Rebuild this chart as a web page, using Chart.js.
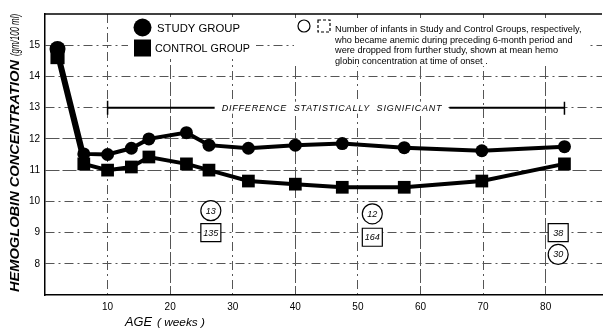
<!DOCTYPE html>
<html>
<head>
<meta charset="utf-8">
<script src="https://cdn.jsdelivr.net/npm/chart.js@4.4.1/dist/chart.umd.min.js"></script>
<style>
  html, body { margin:0; padding:0; background:#fff; }
  #wrap { width:605px; height:328px; }
</style>
</head>
<body>
<div id="wrap"><canvas id="chart" width="605" height="328"></canvas></div>
<script>
// Data
const weeks   = [2, 6.2, 10, 13.8, 16.6, 22.6, 26.2, 32.5, 40, 47.5, 57.4, 69.8, 83];
const study   = [14.88, 11.52, 11.5, 11.7, 12.0, 12.2, 11.8, 11.7, 11.8, 11.85, 11.72, 11.62, 11.75];
const control = [14.62, 11.2, 11.0, 11.1, 11.42, 11.2, 11.0, 10.65, 10.55, 10.45, 10.45, 10.65, 11.2];
const xTicks = [10, 20, 30, 40, 50, 60, 70, 80];
const yTicks = [8, 9, 10, 11, 12, 13, 14, 15];

// infants dropped as anaemic (circle = study, square = control)
const onsetWeek  = [26.5, 26.5, 52.3, 52.3, 82, 82];
const onsetHb    = [9.7, 9.0, 9.6, 8.85, 9.0, 8.3];
const onsetCount = ['13', '135', '12', '164', '38', '30'];
const onsetGroup = ['study', 'control', 'study', 'control', 'control', 'study'];

const signifFrom = 10, signifTo = 83, signifHb = 13;
const signifText = 'DIFFERENCE  STATISTICALLY  SIGNIFICANT';

const noteLines = [
  'Number of infants in Study and Control Groups, respectively,',
  'who became anemic during preceding 6-month period and',
  'were dropped from further study, shown at mean hemo',
  'globin concentration at time of onset .'
];

const FONT = '"Liberation Sans", Arial, sans-serif';

// helpers
const pts = ys => weeks.map((w, i) => ({ x: w, y: ys[i] }));
const solidish = [14, 3];
const dashDot = [9, 4, 2, 4];
const ySolid = [11, 12];
const xSolid = [20, 40, 60, 80];

// draw text squeezed/stretched to a given width
function fitText(ctx, txt, x, y, w) {
  const m = ctx.measureText(txt).width;
  ctx.save();
  ctx.translate(x, y);
  ctx.scale(w / m, 1);
  ctx.fillText(txt, 0, 0);
  ctx.restore();
}

const overlay = {
  id: 'overlay',
  beforeDatasetsDraw(chart) {
    const { ctx, chartArea: a, scales: { x, y } } = chart;
    ctx.save();
    // top frame line
    ctx.strokeStyle = '#000';
    ctx.lineWidth = 1.5;
    ctx.beginPath();
    ctx.moveTo(a.left, a.top);
    ctx.lineTo(a.right, a.top);
    ctx.stroke();

    // white behind legend texts
    ctx.fillStyle = '#fff';
    ctx.fillRect(128, 17, 128, 42);
    ctx.fillRect(294, 18, 296, 48);

    // significance bar
    const yy = y.getPixelForValue(signifHb);
    const x1 = x.getPixelForValue(signifFrom), x2 = x.getPixelForValue(signifTo);
    ctx.font = 'italic 9px ' + FONT;
    ctx.letterSpacing = '0.8px';
    const tw = ctx.measureText(signifText).width;
    const cx = (x1 + x2) / 2 - 4;
    ctx.fillRect(cx - tw / 2 - 6, yy - 6, tw + 12, 12);
    ctx.strokeStyle = '#000';
    ctx.lineWidth = 2;
    ctx.beginPath();
    ctx.moveTo(x1, yy); ctx.lineTo(cx - tw / 2 - 7, yy);
    ctx.moveTo(cx + tw / 2 + 7, yy); ctx.lineTo(x2, yy);
    ctx.stroke();
    ctx.lineWidth = 1.5;
    ctx.beginPath();
    ctx.moveTo(x1, yy - 7); ctx.lineTo(x1, yy + 7);
    ctx.moveTo(x2, yy - 6); ctx.lineTo(x2, yy + 7);
    ctx.stroke();
    ctx.fillStyle = '#000';
    ctx.textAlign = 'center';
    ctx.textBaseline = 'middle';
    ctx.fillText(signifText, cx, yy + 0.5);
    ctx.letterSpacing = '0px';

    // onset markers
    onsetWeek.forEach((w, i) => {
      const px = x.getPixelForValue(w), py = y.getPixelForValue(onsetHb[i]);
      ctx.fillStyle = '#fff';
      ctx.strokeStyle = '#000';
      ctx.lineWidth = 1.2;
      ctx.beginPath();
      if (onsetGroup[i] === 'study') ctx.arc(px, py, 10, 0, Math.PI * 2);
      else ctx.rect(px - 10, py - 9, 20, 18);
      ctx.fill();
      ctx.stroke();
      ctx.fillStyle = '#000';
      ctx.font = 'italic 9px ' + FONT;
      ctx.fillText(onsetCount[i], px, py + 0.5);
    });
    ctx.restore();
  },
  afterDraw(chart) {
    const { ctx } = chart;
    ctx.save();
    ctx.fillStyle = '#000';
    // legend
    ctx.beginPath();
    ctx.arc(142.5, 27.5, 9, 0, Math.PI * 2);
    ctx.fill();
    ctx.fillRect(134, 39.5, 17, 17);
    ctx.font = '11px ' + FONT;
    ctx.textBaseline = 'middle';
    fitText(ctx, 'STUDY GROUP', 157, 29, 83);
    fitText(ctx, 'CONTROL GROUP', 155, 49, 95);

    // note key
    ctx.strokeStyle = '#000';
    ctx.lineWidth = 1.2;
    ctx.beginPath();
    ctx.arc(304, 26, 6, 0, Math.PI * 2);
    ctx.stroke();
    ctx.setLineDash([3, 2]);
    ctx.strokeRect(318, 20, 12, 12);
    ctx.setLineDash([]);
    ctx.font = '9.2px ' + FONT;
    noteLines.forEach((t, i) => ctx.fillText(t, 335, 29.5 + i * 10.5));

    // y axis title, rotated
    ctx.save();
    ctx.translate(16, 292);
    ctx.rotate(-Math.PI / 2);
    ctx.textAlign = 'left';
    ctx.font = 'italic bold 12.5px ' + FONT;
    fitText(ctx, 'HEMOGLOBIN CONCENTRATION', 0, 0, 232);
    ctx.font = 'italic 12px ' + FONT;
    fitText(ctx, '(gm/100 ml)', 236, 0, 42);
    ctx.restore();

    // x axis title
    ctx.textAlign = 'left';
    ctx.font = 'italic 12px ' + FONT;
    fitText(ctx, 'AGE', 125, 323, 27);
    ctx.font = 'italic 11px ' + FONT;
    fitText(ctx, '( weeks )', 157, 323, 48);
    ctx.restore();
  }
};

new Chart(document.getElementById('chart'), {
  type: 'scatter',
  data: {
    datasets: [
      {
        label: 'STUDY GROUP',
        data: pts(study),
        showLine: true,
        borderColor: '#000',
        backgroundColor: '#000',
        borderWidth: 4,
        pointStyle: 'circle',
        pointRadius: weeks.map((w, i) => i === 0 ? 8 : 6.5),
        pointBorderWidth: 0
      },
      {
        label: 'CONTROL GROUP',
        data: pts(control),
        showLine: true,
        borderColor: '#000',
        backgroundColor: '#000',
        borderWidth: 4,
        pointStyle: 'rect',
        pointRadius: weeks.map((w, i) => i === 0 ? 10 : 9),
        pointBorderWidth: 0
      }
    ]
  },
  options: {
    responsive: false,
    animation: false,
    layout: { autoPadding: false, padding: { top: 14, right: 3, left: 0, bottom: 0 } },
    plugins: { legend: { display: false }, tooltip: { enabled: false } },
    scales: {
      x: {
        type: 'linear',
        min: 0, max: 89,
        afterBuildTicks: s => { s.ticks = xTicks.map(v => ({ value: v })); },
        afterFit: s => { s.height = 33; },
        grid: { color: '#555', lineWidth: 1, drawTicks: false },
        border: {
          display: true, color: '#000', width: 1.5,
          dash: c => xSolid.includes(c.tick && c.tick.value) ? solidish : dashDot
        },
        ticks: { padding: 6, color: '#000', font: { size: 10, family: FONT } }
      },
      y: {
        min: 7, max: 16,
        afterBuildTicks: s => { s.ticks = yTicks.map(v => ({ value: v })); },
        afterFit: s => { s.width = 45; },
        grid: { color: '#555', lineWidth: 1, drawTicks: false },
        border: {
          display: true, color: '#000', width: 1.5,
          dash: c => ySolid.includes(c.tick && c.tick.value) ? solidish : dashDot
        },
        ticks: { padding: 5, color: '#000', font: { size: 10, family: FONT } }
      }
    }
  },
  plugins: [overlay]
});
</script>
</body>
</html>
